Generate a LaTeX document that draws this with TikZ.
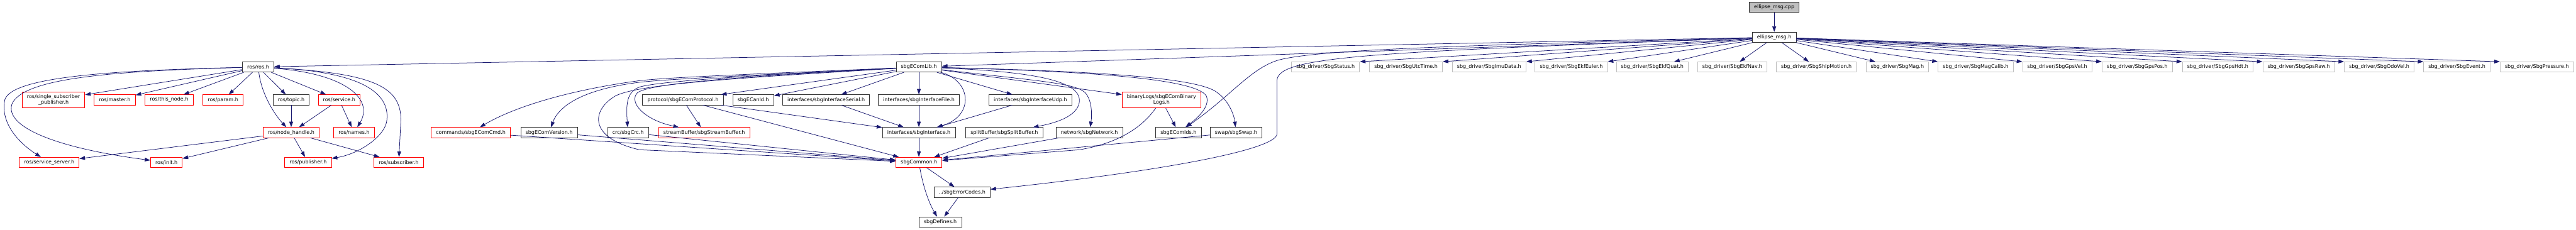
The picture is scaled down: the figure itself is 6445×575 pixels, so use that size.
\documentclass[tikz,border=0pt]{standalone}
\usepackage{fontspec}
\newfontfamily\dxfont{DejaVu Sans}
\usetikzlibrary{arrows.meta}
\definecolor{edgeblue}{HTML}{191970}
\definecolor{nodocgray}{HTML}{BFBFBF}

\begin{document}
\begin{tikzpicture}[x=1pt, y=-1pt,
    hfile/.style={draw=black!80, fill=white, line width=1.3pt,
      font=\dxfont\fontsize{12.6}{15.4}\selectfont, align=center,
      inner xsep=12pt, inner ysep=0pt, minimum height=25.3pt},
    trunc/.style={hfile, draw=red},
    nodoc/.style={hfile, draw=nodocgray},
    rootfile/.style={hfile, fill=nodocgray},
    twoline/.style={minimum height=40.3pt},
    incl/.style={draw=edgeblue, line width=1.2pt,
      -{Triangle[length=14pt, width=9.5pt]}}]
  \useasboundingbox (0,0) rectangle (6445,575);

  % source file and its header
  \node[rootfile] (cpp) at (4439,18.3) {ellipse\_msg.cpp};
  \node[hfile] (msgh) at (4439,93.3) {ellipse\_msg.h};

  % direct includes of ellipse_msg.h
  \node[hfile] (rosh) at (645.9,167.8) {ros/ros.h};
  \node[hfile] (ecomlib) at (2299,167.8) {sbgEComLib.h};
  \node[nodoc] (status) at (3316.5,167.8) {sbg\_driver/SbgStatus.h};
  \node[nodoc] (utctime) at (3517.8,167.8) {sbg\_driver/SbgUtcTime.h};
  \node[nodoc] (imudata) at (3725.8,167.8) {sbg\_driver/SbgImuData.h};
  \node[nodoc] (ekfeuler) at (3931.2,167.8) {sbg\_driver/SbgEkfEuler.h};
  \node[nodoc] (ekfquat) at (4134,167.8) {sbg\_driver/SbgEkfQuat.h};
  \node[nodoc] (ekfnav) at (4333.9,167.8) {sbg\_driver/SbgEkfNav.h};
  \node[nodoc] (shipmotion) at (4544.4,167.8) {sbg\_driver/SbgShipMotion.h};
  \node[nodoc] (mag) at (4747,167.8) {sbg\_driver/SbgMag.h};
  \node[nodoc] (magcalib) at (4943,167.8) {sbg\_driver/SbgMagCalib.h};
  \node[nodoc] (gpsvel) at (5147,167.8) {sbg\_driver/SbgGpsVel.h};
  \node[nodoc] (gpspos) at (5347.2,167.8) {sbg\_driver/SbgGpsPos.h};
  \node[nodoc] (gpshdt) at (5548.6,167.8) {sbg\_driver/SbgGpsHdt.h};
  \node[nodoc] (gpsraw) at (5751.2,167.8) {sbg\_driver/SbgGpsRaw.h};
  \node[nodoc] (odovel) at (5952.7,167.8) {sbg\_driver/SbgOdoVel.h};
  \node[nodoc] (event) at (6147,167.8) {sbg\_driver/SbgEvent.h};
  \node[nodoc] (pressure) at (6347.2,167.8) {sbg\_driver/SbgPressure.h};

  % third rank
  \node[trunc, twoline] (singlesub) at (133.9,250) {ros/single\_subscriber\\\_publisher.h};
  \node[trunc] (master) at (287.2,250) {ros/master.h};
  \node[trunc] (thisnode) at (423.2,250) {ros/this\_node.h};
  \node[trunc] (param) at (558,250) {ros/param.h};
  \node[hfile] (topic) at (728.5,250) {ros/topic.h};
  \node[trunc] (service) at (848.5,250) {ros/service.h};
  \node[hfile] (protocol) at (1708.6,250) {protocol/sbgEComProtocol.h};
  \node[hfile] (canid) at (1884.5,250) {sbgECanId.h};
  \node[hfile] (ifserial) at (2067,250) {interfaces/sbgInterfaceSerial.h};
  \node[hfile] (iffile) at (2299,250) {interfaces/sbgInterfaceFile.h};
  \node[hfile] (ifudp) at (2577.9,250) {interfaces/sbgInterfaceUdp.h};
  \node[trunc, twoline] (binlogs) at (2905.9,250) {binaryLogs/sbgEComBinary\\Logs.h};

  % fourth rank
  \node[trunc] (nodehandle) at (728.5,331.9) {ros/node\_handle.h};
  \node[trunc] (names) at (885.9,331.9) {ros/names.h};
  \node[trunc] (cmd) at (1177.9,331.9) {commands/sbgEComCmd.h};
  \node[hfile] (version) at (1373.8,331.9) {sbgEComVersion.h};
  \node[hfile] (crc) at (1571.3,331.9) {crc/sbgCrc.h};
  \node[trunc] (streambuf) at (1761.9,331.9) {streamBuffer/sbgStreamBuffer.h};
  \node[hfile] (iface) at (2299,331.9) {interfaces/sbgInterface.h};
  \node[hfile] (splitbuf) at (2512.7,331.9) {splitBuffer/sbgSplitBuffer.h};
  \node[hfile] (network) at (2725.6,331.9) {network/sbgNetwork.h};
  \node[hfile] (ecomids) at (2948.6,331.9) {sbgEComIds.h};
  \node[hfile] (swap) at (3092.5,331.9) {swap/sbgSwap.h};

  % bottom ranks
  \node[trunc] (srvserver) at (123.2,406.5) {ros/service\_server.h};
  \node[trunc] (init) at (416.4,406.5) {ros/init.h};
  \node[trunc] (publisher) at (770.9,406.5) {ros/publisher.h};
  \node[trunc] (subscriber) at (997.6,406.5) {ros/subscriber.h};
  \node[trunc] (common) at (2299,406.5) {sbgCommon.h};
  \node[hfile] (errcodes) at (2407.2,481.3) {../sbgErrorCodes.h};
  \node[hfile] (defines) at (2352.6,555.8) {sbgDefines.h};

  % edges of ellipse_msg
  \draw[incl] (cpp) -- (msgh);
  \draw[incl] (msgh) -- (rosh);
  \draw[incl] (msgh) -- (ecomlib);
  \draw[incl] (msgh) .. controls (3600,115) and (3300,125) .. (3200,150)
    .. controls (3130,170) and (3080,240) .. (ecomids);
  \draw[incl] (msgh) .. controls (3450,130) and (3200,140) .. (3195,200)
    -- (3195,335) .. controls (3195,375) and (2900,430) .. (errcodes);
  \draw[incl] (msgh) -- (status.north east);
  \draw[incl] (msgh) -- (utctime.north east);
  \draw[incl] (msgh) -- (imudata.north east);
  \draw[incl] (msgh) -- (ekfeuler.north east);
  \draw[incl] (msgh) -- (ekfquat);
  \draw[incl] (msgh) -- (ekfnav);
  \draw[incl] (msgh) -- (shipmotion);
  \draw[incl] (msgh) -- (mag);
  \draw[incl] (msgh) -- (magcalib.north west);
  \draw[incl] (msgh) -- (gpsvel.north west);
  \draw[incl] (msgh) -- (gpspos.north west);
  \draw[incl] (msgh) -- (gpshdt.north west);
  \draw[incl] (msgh) -- (gpsraw.north west);
  \draw[incl] (msgh) -- (odovel.north west);
  \draw[incl] (msgh) -- (event.north west);
  \draw[incl] (msgh) -- (pressure.north west);

  % ros headers
  \draw[incl] (rosh) -- (singlesub);
  \draw[incl] (rosh) -- (master);
  \draw[incl] (rosh) -- (thisnode);
  \draw[incl] (rosh) -- (param);
  \draw[incl] (rosh) -- (topic);
  \draw[incl] (rosh) -- (service);
  \draw[incl] (rosh) .. controls (655,240) and (690,290) .. (nodehandle);
  \draw[incl] (rosh) .. controls (870,185) and (935,250) .. (names);
  \draw[incl] (rosh) .. controls (900,180) and (975,230) .. (968,300)
    .. controls (965,340) and (900,385) .. (publisher);
  \draw[incl] (rosh) .. controls (930,183) and (1003,215) .. (1003,300)
    -- (subscriber);
  \draw[incl] (rosh) .. controls (300,176) and (30,190) .. (12,250)
    .. controls (0,310) and (50,360) .. (srvserver);
  \draw[incl] (rosh) .. controls (280,178) and (60,195) .. (30,260)
    .. controls (10,320) and (150,372) .. (init);
  \draw[incl] (topic) -- (nodehandle);
  \draw[incl] (service) -- (nodehandle);
  \draw[incl] (service) -- (names);
  \draw[incl] (nodehandle) -- (srvserver);
  \draw[incl] (nodehandle) -- (init);
  \draw[incl] (nodehandle) -- (publisher);
  \draw[incl] (nodehandle) -- (subscriber);

  % sbgECom library
  \draw[incl] (ecomlib) .. controls (1900,185) and (1680,193) .. (1600,202)
    .. controls (1450,222) and (1300,260) .. (cmd);
  \draw[incl] (ecomlib) .. controls (1900,188) and (1680,197) .. (1600,206)
    .. controls (1470,222) and (1400,260) .. (version);
  \draw[incl] (ecomlib) .. controls (1850,190) and (1640,205) .. (1600,218)
    .. controls (1568,230) and (1566,260) .. (crc);
  \draw[incl] (ecomlib) .. controls (1850,192) and (1630,208) .. (1595,232)
    .. controls (1572,255) and (1610,300) .. (streambuf);
  \draw[incl] (ecomlib) .. controls (1850,195) and (1600,210) .. (1540,240)
    .. controls (1480,275) and (1470,345) .. (1600,375) -- (common);
  \draw[incl] (ecomlib) -- (protocol);
  \draw[incl] (ecomlib) -- (canid);
  \draw[incl] (ecomlib) -- (ifserial);
  \draw[incl] (ecomlib) -- (iffile);
  \draw[incl] (ecomlib) .. controls (2430,200) and (2440,290) .. (iface);
  \draw[incl] (ecomlib) -- (ifudp);
  \draw[incl] (ecomlib) .. controls (2600,180) and (2710,205) .. (2700,258)
    .. controls (2692,298) and (2620,312) .. (splitbuf);
  \draw[incl] (ecomlib) .. controls (2600,203) and (2690,208) .. (2715,232)
    .. controls (2733,252) and (2732,290) .. (network);
  \draw[incl] (ecomlib) -- (binlogs);
  \draw[incl] (ecomlib) .. controls (2700,178) and (2990,195) .. (3018,240)
    .. controls (3030,268) and (2990,300) .. (ecomids);
  \draw[incl] (ecomlib) .. controls (2750,178) and (2985,195) .. (3040,228)
    .. controls (3075,250) and (3088,290) .. (swap);

  \draw[incl] (protocol) -- (streambuf);
  \draw[incl] (protocol) -- (iface);
  \draw[incl] (protocol) -- (common);
  \draw[incl] (ifserial) -- (iface);
  \draw[incl] (iffile) -- (iface);
  \draw[incl] (ifudp) -- (iface);
  \draw[incl] (binlogs) -- (ecomids);
  \draw[incl] (binlogs) .. controls (2850,330) and (2780,362) .. (2700,375)
    -- (common);
  \draw[incl] (cmd) -- (common);
  \draw[incl] (version) -- (common);
  \draw[incl] (crc) -- (common);
  \draw[incl] (iface) -- (common);
  \draw[incl] (splitbuf) -- (common);
  \draw[incl] (network) -- (common);
  \draw[incl] (swap) -- (common);

  % common headers
  \draw[incl] (common) -- (errcodes);
  \draw[incl] (common) .. controls (2310,470) and (2325,510) .. (defines);
  \draw[incl] (errcodes) -- (defines);
\end{tikzpicture}
\end{document}
